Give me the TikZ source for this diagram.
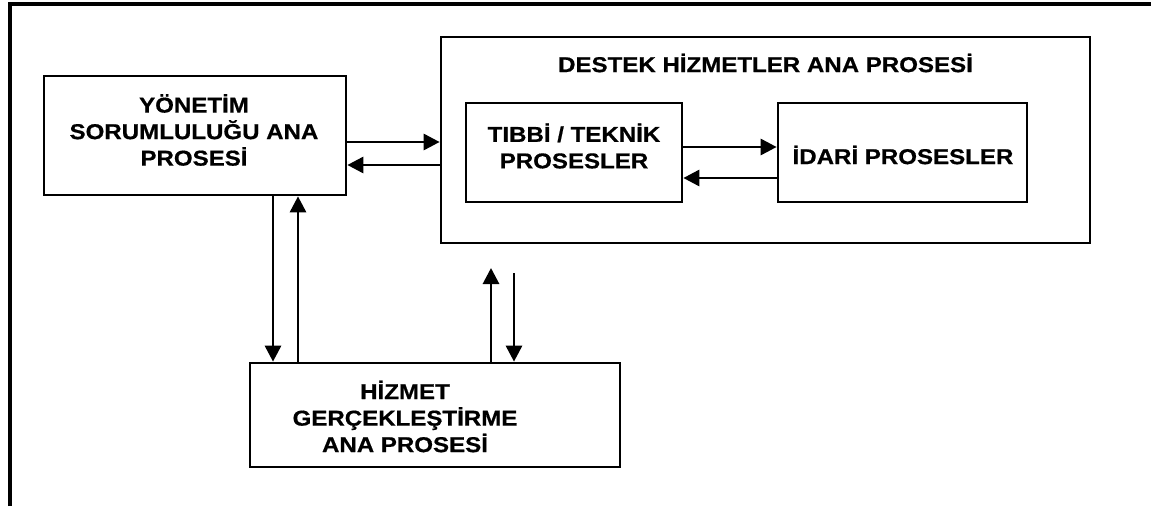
\documentclass[tikz,border=0pt]{standalone}
\usepackage{fontspec}
\setmainfont{Liberation Sans}[FakeStretch=1.12,FakeBold=0.6]
\usetikzlibrary{arrows.meta}
\begin{document}
\begin{tikzpicture}[x=1pt,y=-1pt,
  box/.style={draw=black,line width=2.7pt,rectangle,inner sep=0pt},
  lbl/.style={inner sep=0pt,align=center,font=\bfseries\fontsize{21.5}{26.5}\selectfont},
  arr/.style={line width=2.9pt,-{Triangle[length=16pt,width=16pt]}},
  frame/.style={line width=3.3pt}]
\useasboundingbox[fill=white] (0,0) rectangle (1151,506);
% outer frame (cropped)
\coordinate (fb) at (10,506);
\coordinate (ftl) at (10,4);
\coordinate (fr) at (1151,4);
\draw[frame] (fb) -- (ftl) -- (fr);
% boxes
\node[box,minimum width=302pt,minimum height=119pt] (yon) at (195,135.5) {};
\node[lbl] (yont) at (194,130) {Y\"ONET\.IM\\SORUMLULU\u{G}U ANA\\PROSES\.I};
\node[box,minimum width=649pt,minimum height=206pt] (destek) at (765.5,140) {};
\node[lbl] (destekt) at (765.5,63) {DESTEK H\.IZMETLER ANA PROSES\.I};
\node[box,minimum width=216pt,minimum height=99pt] (tibbi) at (574,152.5) {};
\node[lbl] (tibbit) at (574,146) {TIBB\.I / TEKN\.IK\\PROSESLER};
\node[box,minimum width=249pt,minimum height=99pt] (idari) at (902.5,152.5) {};
\node[lbl] (idarit) at (903,155) {\.IDAR\.I PROSESLER};
\node[box,minimum width=370pt,minimum height=104pt] (hizmet) at (435,415) {};
\node[lbl] (hizmett) at (405,416.5) {H\.IZMET\\GER\c{C}EKLE\c{S}T\.IRME\\ANA PROSES\.I};
% connectors
\draw[arr] (yon.east |- 0,142) -- (destek.west |- 0,142);
\draw[arr] (destek.west |- 0,165) -- (yon.east |- 0,165);
\draw[arr] (tibbi.east |- 0,147) -- (idari.west |- 0,147);
\draw[arr] (idari.west |- 0,178) -- (tibbi.east |- 0,178);
\draw[arr] (yon.south -| 273,0) -- (hizmet.north -| 273,0);
\draw[arr] (hizmet.north -| 298,0) -- (yon.south -| 298,0);
\coordinate (upend) at (491,268);
\coordinate (downstart) at (514,273);
\draw[arr] (hizmet.north -| upend) -- (upend);
\draw[arr] (downstart) -- (hizmet.north -| downstart);
\end{tikzpicture}
\end{document}
